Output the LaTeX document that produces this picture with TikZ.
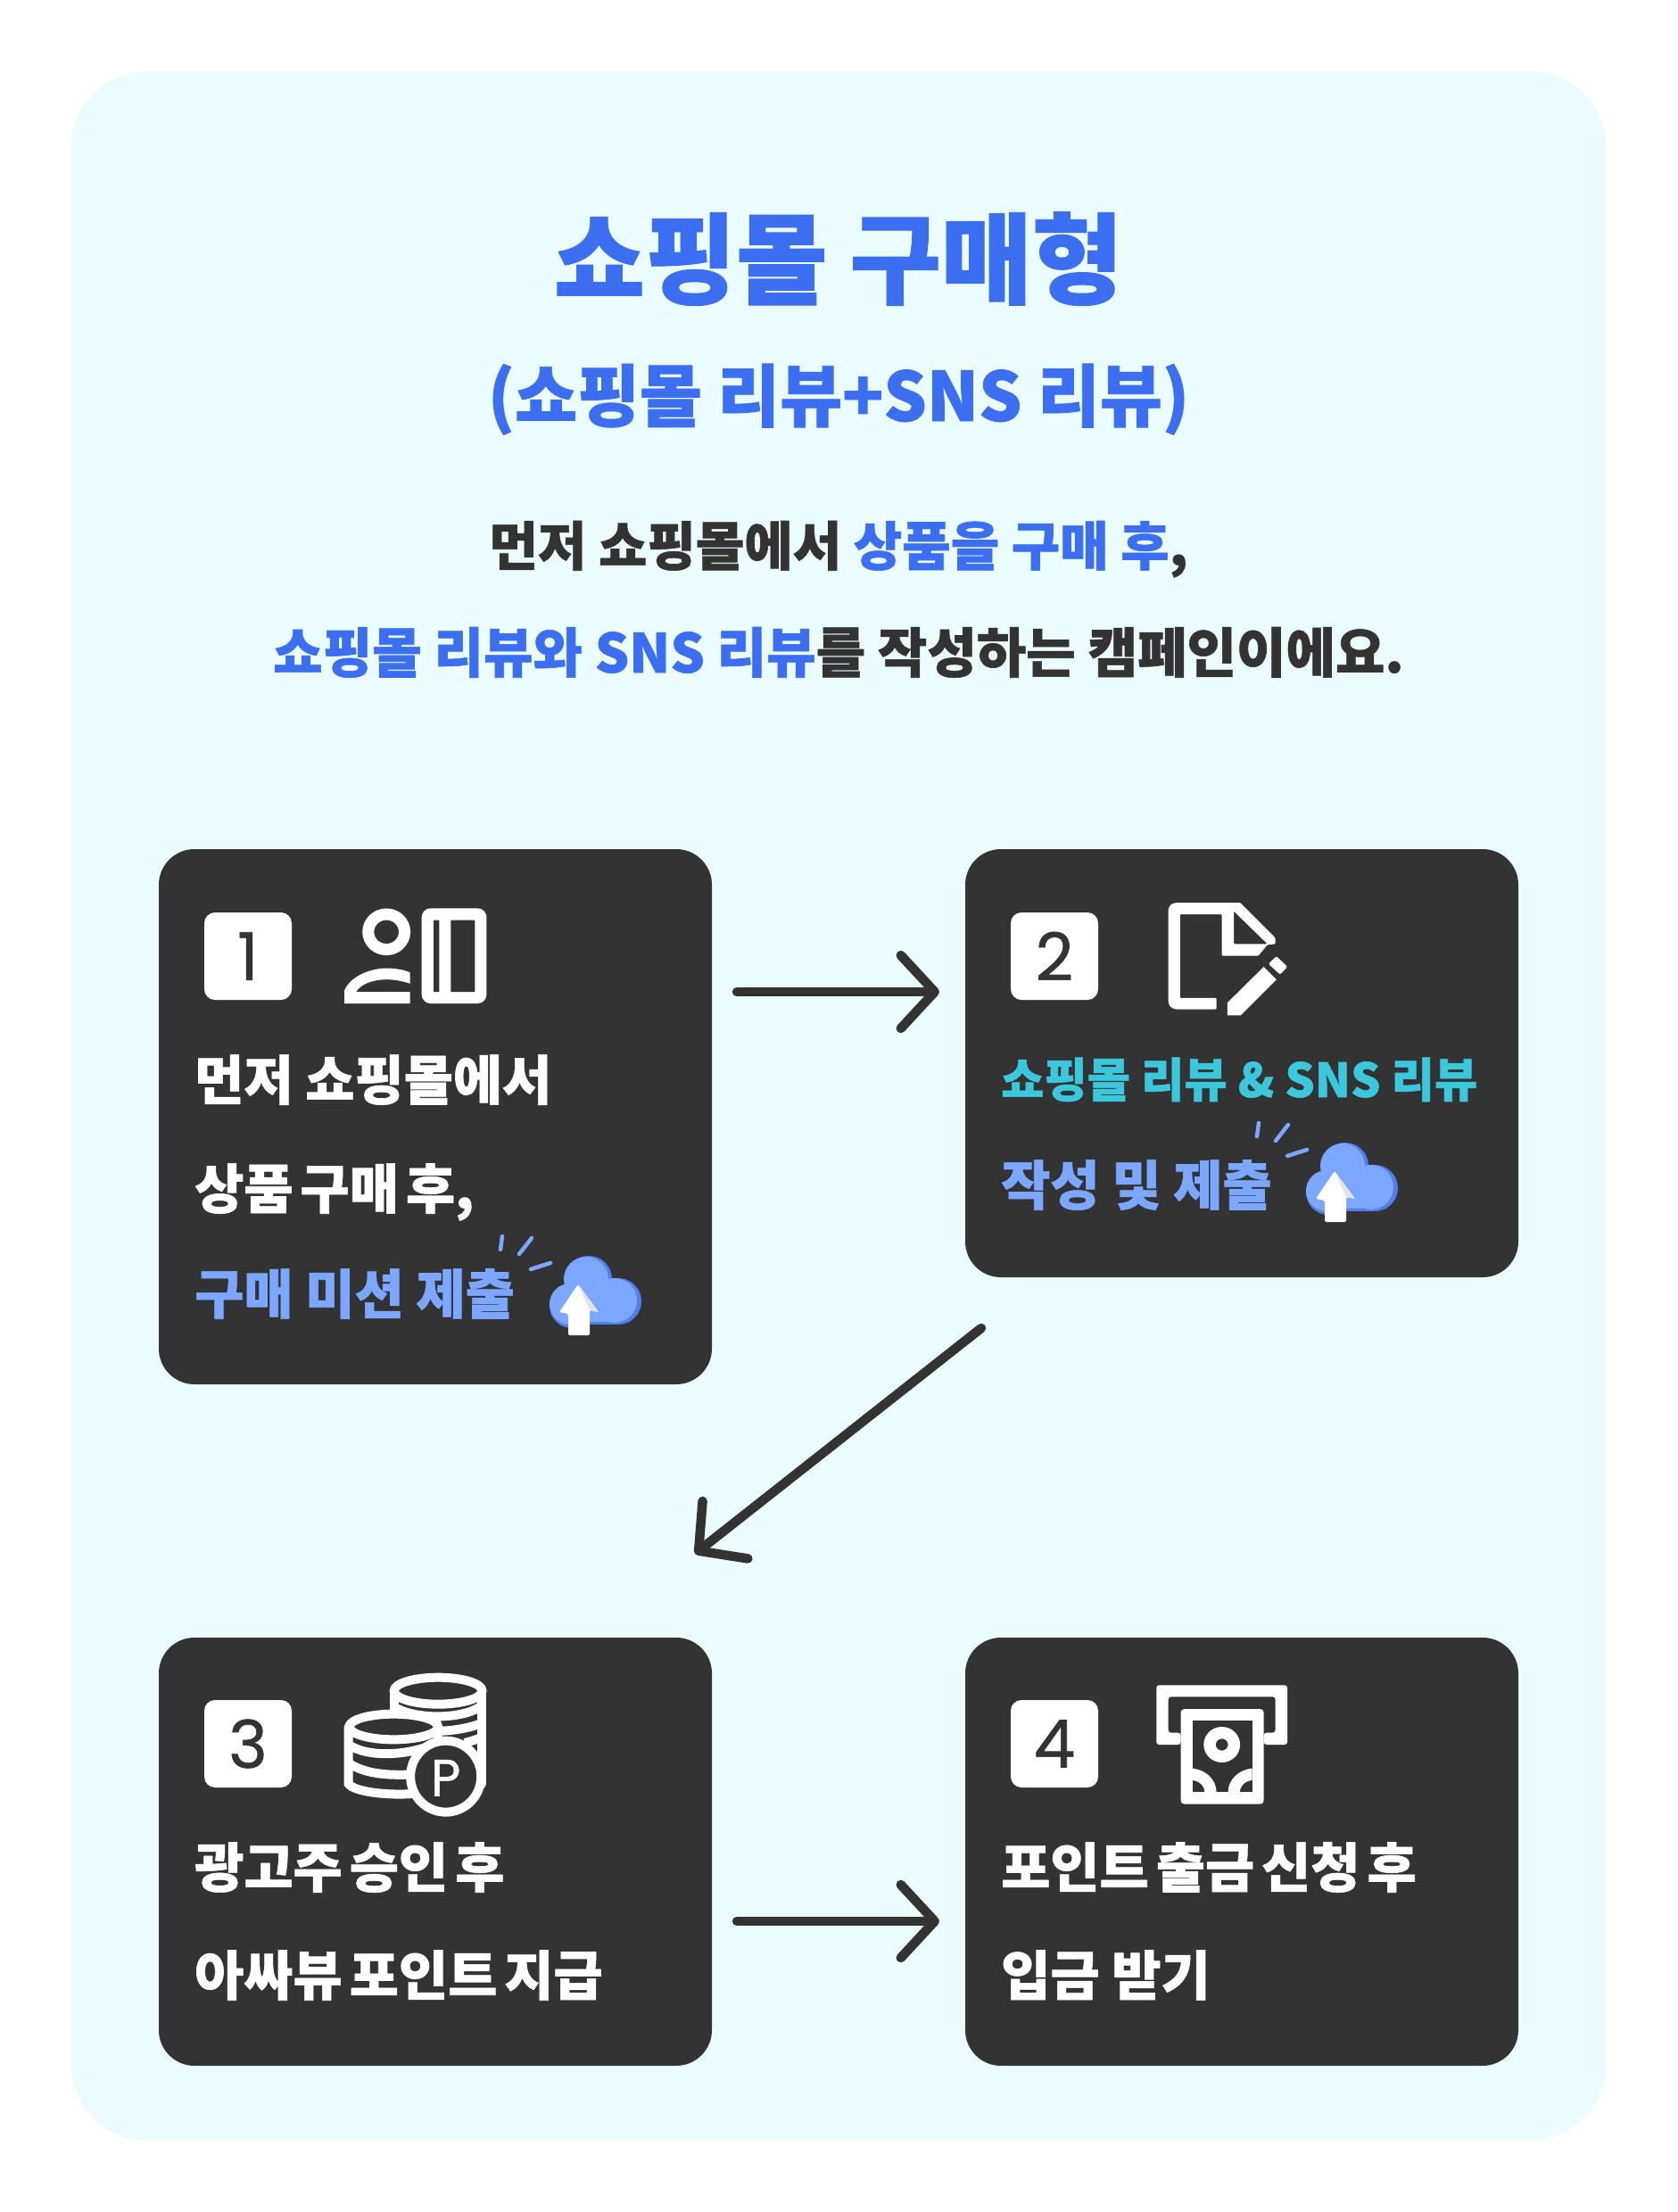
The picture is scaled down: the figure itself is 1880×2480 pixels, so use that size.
\documentclass[tikz,border=0pt]{standalone}
\usepackage{fontspec}
\setmainfont{Noto Sans CJK KR}
\newfontfamily\krb{Noto Sans CJK KR Black}[FakeBold=1]
\newfontfamily\dg{Poppins}[FakeBold=0.8]
\usetikzlibrary{arrows.meta}
\definecolor{panelbg}{HTML}{EBFCFF}
\definecolor{darkbox}{HTML}{333333}
\definecolor{blueT}{HTML}{3B6EF0}
\definecolor{lightB}{HTML}{7BA7FF}
\definecolor{tealT}{HTML}{3CC8DC}
\definecolor{cloudB}{HTML}{4F7FE8}
\newcommand{\fs}[1]{\fontsize{#1}{#1}\selectfont}
\newcommand{\gp}{\hspace{8pt}}
\tikzset{
 x=1pt,y=-1pt,
 card/.style={fill=darkbox,rounded corners=40pt,inner sep=0pt,minimum width=620pt,text width=0pt},
 badge/.style={fill=white,rounded corners=12pt,inner sep=0pt,minimum width=98pt,minimum height=98pt,text=darkbox,font=\dg\fs{74}},
 cardtext/.style={anchor=base west,inner sep=0pt,text=white,font=\krb\fs{60}},
 flow/.style={line width=10.5pt,darkbox,line cap=round,-{Straight Barb[round,length=38pt,width=82pt]}},
 ic/.style={fill=white,draw=none,even odd rule},
 icl/.style={draw=white,line width=10pt,fill=darkbox},
 icb/.style={draw=white,line width=10pt},
 upcloud/.pic={
  \fill[cloudB] (28,56) circle[radius=25];
  \fill[cloudB] (47,26) circle[radius=26];
  \fill[cloudB] (80,51) circle[radius=26];
  \fill[cloudB] (28,51) rectangle (80,77);
  \fill[lightB] (26,54) circle[radius=23];
  \fill[lightB] (44,26) circle[radius=25];
  \fill[lightB] (76,50) circle[radius=25];
  \fill[lightB] (26,50) rectangle (76,74);
  \fill[white,rounded corners=1.5pt] (35,32) -- (58,63) -- (48,61) -- (48,89) -- (24,89) -- (24,65) -- (14,63) -- cycle;
  \fill[gray!22] (35,32) -- (58,63) -- (48,61) -- cycle;
  \draw[lightB,line width=4.5pt,line cap=round] (-50,-22) -- (-52,-7) (-17,-20) -- (-31,-2) (4,8) -- (-18,15);
 }
}
\begin{document}
\begin{tikzpicture}
\useasboundingbox (0,0) rectangle (1880,2480);
\fill[white] (0,0) rectangle (1880,2480);
\fill[panelbg,rounded corners=85pt] (80,80) rectangle (1800,2400);

\node[anchor=base,inner sep=0pt,text=blueT,font=\krb\fs{111}] (title) at (940,332) {쇼핑몰 구매형};
\node[anchor=base,inner sep=0pt,text=blueT,font=\krb\fs{76}] (subtitle) at (940,472) {(쇼핑몰 리뷰+SNS 리뷰)};
\node[anchor=base,inner sep=0pt,text=darkbox,font=\krb\fs{59.2}] (lineA) at (940,634) {먼저 쇼핑몰에서 \textcolor{blueT}{상품을 구매 후},};
\node[anchor=base,inner sep=0pt,text=darkbox,font=\krb\fs{60.3}] (lineB) at (940,754) {\textcolor{blueT}{쇼핑몰 리뷰와 SNS 리뷰}를 작성하는 캠페인이에요.};

\node[card,minimum height=600pt] (box1) at (488,1252) {};
\node[card,minimum height=480pt] (box2) at (1392,1192) {};
\node[card,minimum height=480pt] (box3) at (488,2076) {};
\node[card,minimum height=480pt] (box4) at (1392,2076) {};

\node[badge] (n1) at (278,1072) {1};
\node[badge] (n2) at (1182,1072) {2};
\node[badge] (n3) at (278,1955) {3};
\node[badge] (n4) at (1182,1955) {4};

% icon 1
\begin{scope}[shift={(170,940)},xscale=.408,yscale=.3954]
 \draw[white,line width=13pt] (645,265) ellipse[x radius=50,y radius=50];
 \fill[ic] (530,468) -- (530,430) .. controls (550,385) and (610,368) .. (645,368) .. controls (670,368) and (695,373) .. (710,380) -- (710,412) .. controls (690,404) and (665,400) .. (645,400) .. controls (610,400) and (575,412) .. (562,435) -- (710,435) -- (710,468) -- cycle;
 \fill[white,rounded corners=10pt] (742,198) rectangle (920,468);
 \fill[darkbox] (775,232) rectangle (790,435) (822,232) rectangle (888,435);
\end{scope}

% icon 2
\begin{scope}[shift={(1080,940)},xscale=.408,yscale=.3333]
 \fill[ic,rounded corners=1pt] (695,575) -- (590,575) .. controls (572,575) and (563,562) .. (563,545) -- (563,245) .. controls (563,228) and (572,216) .. (590,216) -- (760,216) -- (857,335) -- (857,355) -- (835,358) -- (810,395) -- (710,395) -- (710,255) -- (595,255) -- (595,537) -- (695,537) -- cycle (743,245) -- (835,355) -- (743,355) -- cycle;
 \fill[white] (725,553) -- (825,432) -- (860,475) -- (762,595) -- (725,595) -- cycle;
 \fill[white,rounded corners=2pt] (838,422) -- (860,396) -- (890,432) -- (870,458) -- cycle;
\end{scope}

% icon 3
\begin{scope}[shift={(170,1830)},xscale=.408,yscale=.3333]
 \draw[icb,line cap=round] (666,197) -- (666,270) (908,197) -- (908,510);
 \draw[icb] (666,250) .. controls (720,295) and (860,295) .. (908,245);
 \draw[icb] (790,332) .. controls (830,332) and (880,320) .. (908,305);
 \draw[icb] (860,372) .. controls (880,366) and (895,360) .. (908,352);
 \draw[icl] (787,197) ellipse[x radius=121,y radius=45];
 \path[fill=darkbox] (541,318) -- (541,510) -- (790,520) -- (790,318) -- cycle;
 \draw[icb,line cap=round] (541,318) -- (541,510) .. controls (555,535) and (640,550) .. (720,543);
 \draw[icb] (787,318) -- (787,360);
 \draw[icb] (541,378) .. controls (590,420) and (700,420) .. (790,370);
 \draw[icb] (541,440) .. controls (590,480) and (660,482) .. (720,478);
 \draw[icl] (665,318) ellipse[x radius=122,y radius=43];
 \draw[icl] (808,485) ellipse[x radius=97,y radius=120];
 \node[inner sep=0pt,text=white,font=\dg\fs{58}] (pmark) at (808,490) {P};
\end{scope}

% icon 4
\begin{scope}[shift={(1080,1830)},xscale=.408,yscale=.3333]
 \fill[ic,rounded corners=3pt] (530,178) -- (890,178) -- (890,378) -- (825,378) -- (825,338) -- (857,338) -- (857,217) -- (563,217) -- (563,338) -- (597,338) -- (597,378) -- (530,378) -- cycle;
 \fill[white,rounded corners=4pt] (597,258) rectangle (825,578);
 \fill[darkbox] (629,298) rectangle (793,538);
 \fill[ic] (710,378) ellipse[x radius=50,y radius=60] (710,378) ellipse[x radius=17,y radius=20];
 \fill[white] (629,458) .. controls (665,462) and (695,495) .. (695,538) -- (663,538) .. controls (663,520) and (650,500) .. (629,498) -- cycle;
 \fill[white] (793,458) .. controls (757,462) and (727,495) .. (727,538) -- (759,538) .. controls (759,520) and (772,500) .. (793,498) -- cycle;
\end{scope}

\node[cardtext] (t1a) at (218,1233) {먼저 쇼핑몰에서};
\node[cardtext] (t1b) at (218,1355) {상품\gp{}구매\gp{}후,};
\node[cardtext,text=lightB] (t1c) at (218,1473) {구매 미션 제출};
\node[cardtext,text=tealT,font=\krb\fs{52.5}] (t2a) at (1122,1230) {쇼핑몰 리뷰 \& SNS 리뷰};
\node[cardtext,text=lightB] (t2b) at (1122,1351) {작성 및 제출};
\node[cardtext] (t3a) at (218,2116) {광고주\gp{}승인\gp{}후};
\node[cardtext] (t3b) at (218,2237) {아싸뷰\gp{}포인트\gp{}지급};
\node[cardtext] (t4a) at (1122,2116) {포인트\gp{}출금\gp{}신청\gp{}후};
\node[cardtext] (t4b) at (1122,2237) {입금 받기};

\pic at (613,1408) {upcloud};
\pic at (1461,1281) {upcloud};

\coordinate (a1s) at (826,1112);
\coordinate (a1e) at (1053,1112);
\coordinate (a2s) at (1100,1489);
\coordinate (a2e) at (779,1742);
\coordinate (a3s) at (826,2154);
\coordinate (a3e) at (1053,2154);
\draw[flow] (a1s) -- (a1e);
\draw[flow] (a2s) -- (a2e);
\draw[flow] (a3s) -- (a3e);
\end{tikzpicture}
\end{document}
